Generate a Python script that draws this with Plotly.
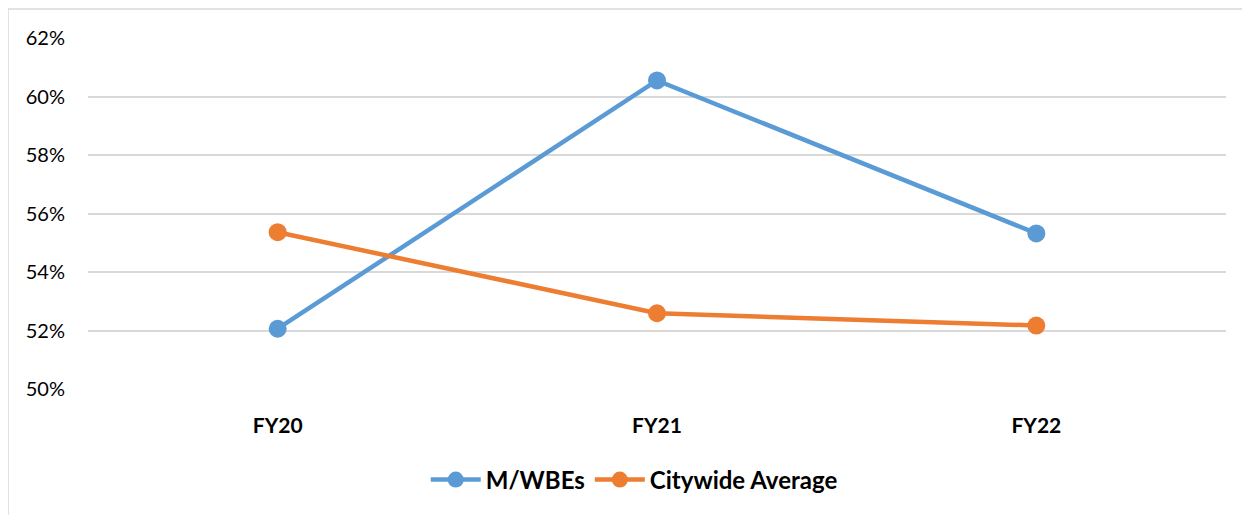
import plotly.graph_objects as go

categories = ["FY20", "FY21", "FY22"]
mwbe_values = [52.06, 60.55, 55.32]
citywide_values = [55.36, 52.59, 52.17]
y_ticks = [50, 52, 54, 56, 58, 60, 62]
y_tick_labels = ["50%", "52%", "54%", "56%", "58%", "60%", "62%"]

BLUE = "#5B9BD5"
ORANGE = "#ED7D31"
FONT = "Lato, 'Open Sans', sans-serif"

fig = go.Figure()
fig.add_trace(go.Scatter(
    x=categories, y=mwbe_values, name="M/WBEs", mode="lines+markers",
    line=dict(color=BLUE, width=4.5), marker=dict(color=BLUE, size=18),
))
fig.add_trace(go.Scatter(
    x=categories, y=citywide_values, name="Citywide Average", mode="lines+markers",
    line=dict(color=ORANGE, width=4.5), marker=dict(color=ORANGE, size=18),
))

# page offset of 8px (body margin) compensated
OFF = 8
W, H = 1250 - OFF, 515 - OFF
L, T = 88 - OFF, 38 - OFF
pw, ph = 1138, 351
R = W - L - pw
B = H - T - ph

def px_x(p):
    return (p - OFF - L) / pw

def px_y(p):
    return (H - B - (p - OFF)) / ph

fig.update_layout(
    width=W, height=H,
    margin=dict(l=L, r=R, t=T, b=B),
    paper_bgcolor="white", plot_bgcolor="white",
    font=dict(family=FONT, color="black", size=16),
    showlegend=True,
    legend=dict(
        orientation="h", x=0.48, xanchor="center", y=px_y(480), yanchor="middle",
        font=dict(family=FONT, size=24, color="black", weight="bold"),
        itemwidth=50, bgcolor="rgba(0,0,0,0)",
    ),
    xaxis=dict(
        type="category", range=[-0.5, 2.5], showgrid=False, zeroline=False,
        showline=False, ticks="",
        tickfont=dict(family=FONT, size=21, color="black", weight="bold"),
        ticklabelstandoff=22,
    ),
    yaxis=dict(
        range=[50, 62], tickvals=y_ticks, ticktext=y_tick_labels,
        showgrid=True, gridcolor="#D9D9D9", gridwidth=1.5,
        zeroline=False, showline=False, ticks="",
        tickfont=dict(family=FONT, size=20, color="black"),
        ticklabelstandoff=22,
    ),
    shapes=[
        dict(type="line", xref="paper", yref="paper",
             x0=px_x(8), x1=px_x(1250), y0=px_y(9), y1=px_y(9),
             line=dict(color="#D9D9D9", width=1.5)),
        dict(type="line", xref="paper", yref="paper",
             x0=px_x(8), x1=px_x(8), y0=px_y(9), y1=px_y(515),
             line=dict(color="#D9D9D9", width=1.5)),
    ],
)

fig.write_html("out.html")
